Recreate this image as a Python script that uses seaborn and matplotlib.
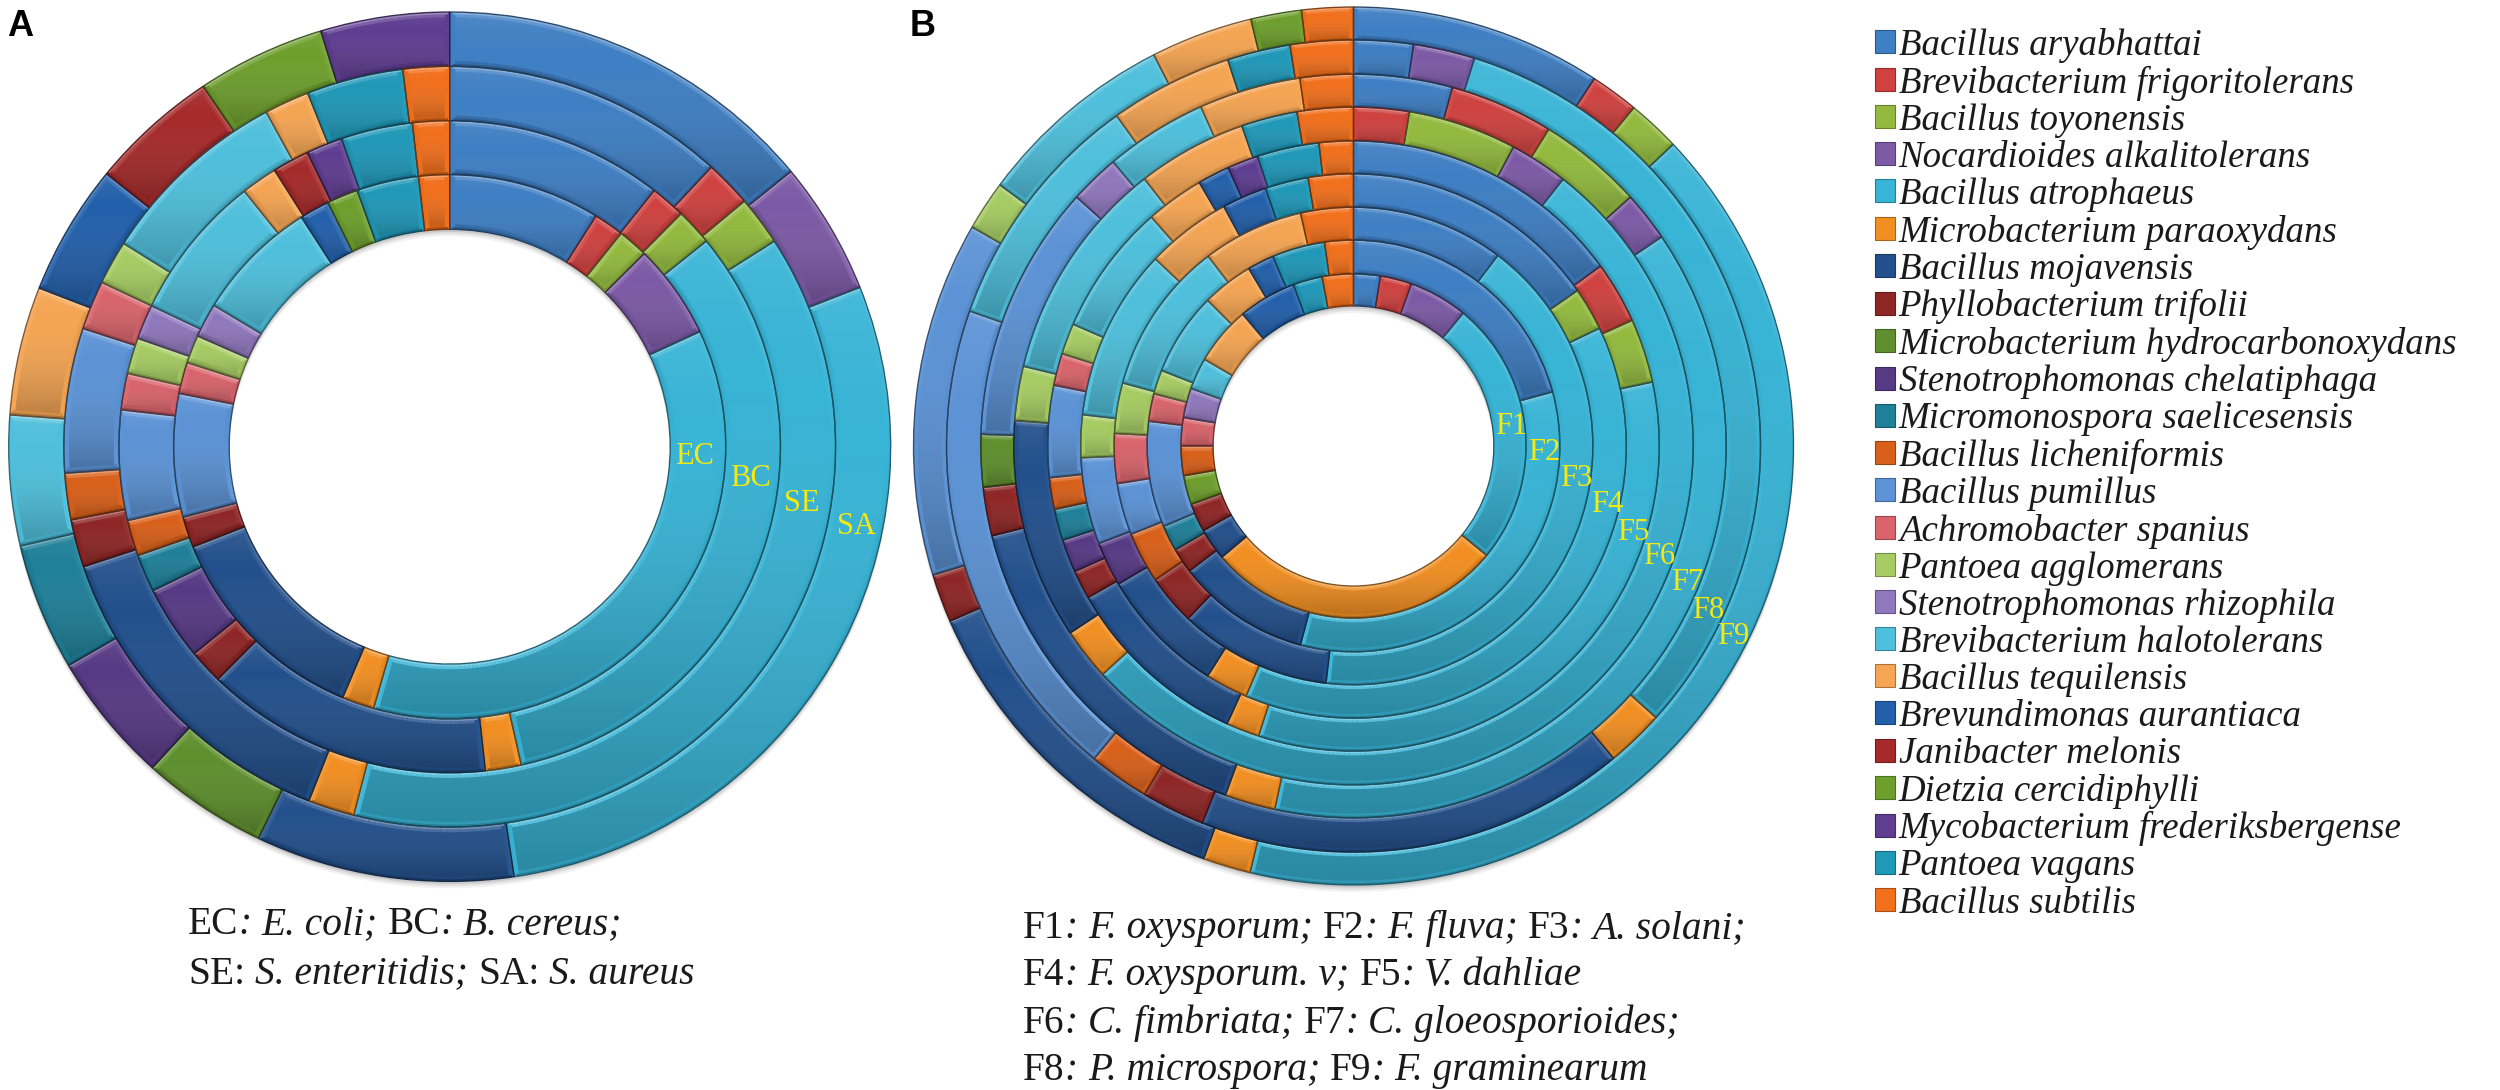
import numpy as np
import matplotlib
matplotlib.use("Agg")
import matplotlib.pyplot as plt
import matplotlib.patches as mpatches
from matplotlib.collections import LineCollection
from matplotlib.font_manager import FontProperties
import seaborn as sns

W, H = 2500, 1090

# legend order, the rings use indexes into this list
species = [
    "Bacillus aryabhattai", "Brevibacterium frigoritolerans", "Bacillus toyonensis",
    "Nocardioides alkalitolerans", "Bacillus atrophaeus", "Microbacterium paraoxydans",
    "Bacillus mojavensis", "Phyllobacterium trifolii", "Microbacterium hydrocarbonoxydans",
    "Stenotrophomonas chelatiphaga", "Micromonospora saelicesensis", "Bacillus licheniformis",
    "Bacillus pumillus", "Achromobacter spanius", "Pantoea agglomerans",
    "Stenotrophomonas rhizophila", "Brevibacterium halotolerans", "Bacillus tequilensis",
    "Brevundimonas aurantiaca", "Janibacter melonis", "Dietzia cercidiphylli",
    "Mycobacterium frederiksbergense", "Pantoea vagans", "Bacillus subtilis",
]
species_colors = [
    "#3f7fc4", "#cf4240", "#93ba3f", "#7d5aa6", "#38b4d6", "#f28f22",
    "#23508c", "#8f2626", "#5f8f2e", "#573a85", "#1f8099", "#d9601a",
    "#5c93d6", "#d9646c", "#a6cc63", "#9078bd", "#4fc0dc", "#f5a553",
    "#2360ab", "#a62a2a", "#6e9f2d", "#5f3d91", "#2098b8", "#f2701c",
]

# panel A, outer ring first. shares are arc lengths (out of 360)
sa_species = [0, 3, 4, 6, 8, 9, 10, 16, 17, 18, 19, 20, 21]
sa_shares = [50.7, 17.8, 103.1, 34.1, 16.7, 17.4, 17, 17.4, 17.2, 17.5, 17.1, 17, 17]
se_species = [0, 1, 2, 4, 5, 6, 7, 11, 12, 13, 14, 16, 17, 22, 23]
se_shares = [42.7, 7.1, 7.5, 137.1, 7, 50.2, 7.3, 7.1, 22.1, 7.5, 6.7, 29.3, 6.8, 14.6, 7]
bc_species = [0, 1, 2, 4, 5, 6, 7, 9, 10, 11, 12, 13, 14, 15, 16, 17, 19, 21, 22, 23]
bc_shares = [38.2, 6.2, 6.5, 116.6, 6.3, 50.7, 6.1, 13.2, 6.7, 6.4, 19.6, 6.5, 6.4, 6.2, 26, 6.4, 6.5, 6.4, 12.6, 6.5]
ec_species = [0, 1, 2, 3, 4, 5, 6, 7, 12, 13, 14, 15, 16, 18, 20, 22, 23]
ec_shares = [32, 6.4, 6.4, 20.2, 131, 6.8, 45.6, 6.6, 26.3, 6.7, 6, 7.3, 26.2, 6.3, 6.6, 13.1, 6.5]

# panel B
f9_species = [0, 1, 2, 4, 5, 6, 7, 12, 14, 16, 17, 20, 23]
f9_shares = [33.2, 6.4, 7, 147, 6.3, 46.6, 6.4, 47, 6.6, 26.5, 13.5, 6.7, 6.8]
f8_species = [0, 3, 4, 5, 6, 7, 11, 12, 16, 17, 22, 23]
f8_shares = [8.5, 8.8, 114.7, 8.3, 61.5, 9.1, 8.7, 69.8, 35, 17.6, 9, 9]
f7_species = [0, 1, 2, 3, 4, 5, 6, 7, 8, 12, 15, 16, 17, 23]
f7_shares = [15.4, 16.2, 16.4, 7.8, 136.4, 7.9, 55.9, 7.6, 8.2, 40.2, 7.8, 16, 15.9, 8.3]
f6_species = [1, 2, 3, 4, 5, 6, 14, 16, 17, 22, 23]
f6_shares = [9.5, 18.6, 10, 189.5, 8.9, 37.8, 9.3, 38.4, 18.8, 9.6, 9.6]
f5_species = [0, 1, 2, 4, 5, 6, 7, 9, 10, 11, 12, 13, 14, 16, 17, 18, 21, 22, 23]
f5_shares = [53.9, 11.8, 12.2, 120.2, 6.3, 35.8, 5.5, 6.3, 6, 6, 17.5, 6.1, 5.9, 25.1, 11.1, 6.1, 5.9, 11.8, 6.5]
f4_species = [0, 2, 4, 5, 6, 9, 12, 14, 16, 17, 18, 22, 23]
f4_shares = [55.2, 9.2, 138.8, 9.1, 27.2, 9.5, 18.5, 9.1, 36.8, 18.2, 9.6, 9.2, 9.6]
f3_species = [0, 4, 6, 7, 11, 12, 13, 14, 16, 17, 23]
f3_shares = [37.1, 149.5, 37.1, 12.2, 12.4, 12.6, 12.1, 12.3, 37.3, 24.6, 12.8]
f2_species = [0, 4, 6, 7, 10, 12, 13, 14, 16, 17, 18, 22, 23]
f2_shares = [74.8, 120.1, 37.7, 7.1, 7.3, 29.9, 7.8, 6.8, 23.5, 14.5, 7.5, 14.9, 8.1]
f1_species = [0, 1, 3, 4, 5, 6, 7, 20, 11, 13, 15, 16, 17, 18, 22, 23]
f1_shares = [9, 10.6, 19.9, 90, 100.2, 10.8, 9.7, 9.8, 10, 9.5, 10, 10.7, 19.8, 19.6, 9.9, 10.5]

rings_a = [(sa_species, sa_shares), (se_species, se_shares), (bc_species, bc_shares), (ec_species, ec_shares)]
rings_b = [(f9_species, f9_shares), (f8_species, f8_shares), (f7_species, f7_shares),
           (f6_species, f6_shares), (f5_species, f5_shares), (f4_species, f4_shares),
           (f3_species, f3_shares), (f2_species, f2_shares), (f1_species, f1_shares)]

ring_labels_a = ["EC", "BC", "SE", "SA"]
ring_labels_b = ["F1", "F2", "F3", "F4", "F5", "F6", "F7", "F8", "F9"]

# pixel layout
edges_a = [1.0, 0.875, 0.75, 0.626, 0.50]
edges_b = [1.0, 0.925, 0.847, 0.772, 0.695, 0.62, 0.544, 0.469, 0.392, 0.319]
label_pos_a = [(695, 456), (750, 479), (802, 503), (856, 526)]
label_pos_b = [(1511, 426), (1544, 452), (1576, 479), (1607, 505), (1633, 532),
               (1659, 556), (1687, 583), (1708, 611), (1733, 636)]

sns.set_theme(style="white")
plt.rcParams["font.family"] = ["Liberation Serif", "DejaVu Sans"]
palette = sns.color_palette(species_colors)

fig = plt.figure(figsize=(W / 100, H / 100), dpi=100, facecolor="white")

shade_img = np.zeros((64, 1, 4))
shade_img[:, 0, :3] = np.linspace(1, 0, 64)[:, None]
shade_img[:, 0, 3] = np.abs(np.linspace(0.08, -0.24, 64))


def panel_axes(cx, cy, rx, ry, pad=1.06):
    ax = fig.add_axes([(cx - rx * pad) / W, 1 - (cy + ry * pad) / H, 2 * rx * pad / W, 2 * ry * pad / H])
    ax.patch.set_alpha(0)
    return ax, pad


def lit(color, s, strength):
    color = np.array(color)
    if s >= 0:
        return tuple(color + (1 - color) * s * strength)
    return tuple(color * (1 + s * strength * 0.8))


def bevel(ax, w, color, lw, strength):
    t = np.radians(np.linspace(w.theta1, w.theta2, max(3, int(w.theta2 - w.theta1) + 2)))
    segs, cols = [], []
    for r, sign in ((w.r, 1), (w.r - w.width, -1)):
        pts = np.column_stack([r * np.cos(t), r * np.sin(t)])
        segs += [pts[i:i + 2] for i in range(len(pts) - 1)]
        cols += [lit(color, sign * np.sin((t[i] + t[i + 1]) / 2), strength) for i in range(len(pts) - 1)]
    for ang, sign in ((t[0], -1), (t[-1], 1)):
        u = np.array([np.cos(ang), np.sin(ang)])
        segs.append(np.array([u * (w.r - w.width), u * w.r]))
        cols.append(lit(color, sign * np.cos(ang), strength))
    lc = LineCollection(segs, colors=cols, linewidths=lw, capstyle="butt", zorder=3)
    ax.add_collection(lc)
    lc.set_clip_path(w)


def draw_panel(cx, cy, rx, ry, rings, edges, bevel_lw):
    ax, pad = panel_axes(cx, cy, rx, ry)
    # soft shadow under the rings
    for off, a in ((0.016, 0.05), (0.011, 0.07), (0.006, 0.10)):
        ax.pie([1], radius=1.0, center=(0, -off), colors=["black"], startangle=90,
               wedgeprops=dict(width=1.0 - edges[-1], alpha=a, linewidth=0, zorder=0))
    for (ids, shares), r_out, r_in in zip(rings, edges[:-1], edges[1:]):
        colors = [palette[i] for i in ids]
        wedges, _ = ax.pie(shares, radius=r_out, colors=colors, startangle=90, counterclock=False,
                           wedgeprops=dict(width=r_out - r_in, linewidth=0, zorder=1))
        for w, c in zip(wedges, colors):
            ext = w.get_path().get_extents()
            im = ax.imshow(shade_img, extent=[ext.x0, ext.x1, ext.y0, ext.y1], aspect="auto",
                           origin="upper", interpolation="bilinear", zorder=2)
            im.set_clip_path(w)
            bevel(ax, w, c, bevel_lw * 2.2, 0.18)
            bevel(ax, w, c, bevel_lw, 0.38)
            dark = tuple(np.array(c) * 0.45)
            ax.add_patch(mpatches.Wedge((0, 0), w.r, w.theta1, w.theta2, width=w.width, fill=False,
                                        ec=dark, lw=1.0, alpha=0.85, zorder=4))
    ax.set_aspect("auto")
    ax.set_xlim(-pad, pad)
    ax.set_ylim(-pad, pad)
    ax.axis("off")
    return ax


draw_panel(449.7, 446.7, 441, 434.7, rings_a, edges_a, 3.4)
draw_panel(1353.5, 446, 440, 439, rings_b, edges_b, 2.8)


def text_px(x, y, s, **kw):
    return fig.text(x / W, 1 - y / H, s, **kw)


for lab, (x, y) in zip(ring_labels_a, label_pos_a):
    text_px(x, y, lab, color="#f5e90f", fontsize=22, ha="center", va="center", zorder=10)
for lab, (x, y) in zip(ring_labels_b, label_pos_b):
    text_px(x, y, lab, color="#f5e90f", fontsize=22, ha="center", va="center", zorder=10)

text_px(7, 26, "A", family=["Liberation Sans"], weight="bold", fontsize=26, va="center", color="black")
text_px(910, 26, "B", family=["Liberation Sans"], weight="bold", fontsize=26, va="center", color="black")

# captions are runs of upright and italic text
caption_a = [
    (188, 934, [("EC", 0), (":", 1), ("E. coli;", 1), ("BC", 0), (":", 1), ("B. cereus;", 1)]),
    (188, 984, [("SE:", 0), ("S. enteritidis;", 1), ("SA:", 0), ("S. aureus", 1)]),
]
caption_b = [
    (1023, 938, [("F1", 0), (":", 1), ("F. oxysporum;", 1), ("F2", 0), (":", 1), ("F. fluva;", 1),
                 ("F3", 0), (":", 1), ("A. solani;", 1)]),
    (1023, 985, [("F4", 0), (":", 1), ("F. oxysporum. v;", 1), ("F5", 0), (":", 1), ("V. dahliae", 1)]),
    (1023, 1033, [("F6", 0), (":", 1), ("C. fimbriata;", 1), ("F7", 0), (":", 1), ("C. gloeosporioides;", 1)]),
    (1023, 1080, [("F8", 0), (":", 1), ("P. microspora;", 1), ("F9", 0), (":", 1), ("F. graminearum", 1)]),
]
renderer = fig.canvas.get_renderer()
for x0, y0, runs in caption_a + caption_b:
    x = x0
    for s, ital in runs:
        t = text_px(x, y0, s, fontsize=28.4, style="italic" if ital else "normal", va="baseline", color="#1a1a1a")
        gap = 0 if s in ("EC", "BC", "F1", "F2", "F3", "F4", "F5", "F6", "F7", "F8", "F9") else 10
        x += t.get_window_extent(renderer).width + gap

handles = [mpatches.Patch(facecolor=c, edgecolor=tuple(np.array(c) * 0.7), lw=0.8) for c in palette]
fig.legend(handles, species, loc="upper left", bbox_to_anchor=(1875 / W, 1 - 28 / H),
           prop=FontProperties(family="Liberation Serif", style="italic", size=26.6),
           frameon=False, handlelength=0.54, handleheight=0.58, handletextpad=0.1,
           labelspacing=0.07, borderpad=0, borderaxespad=0, labelcolor="#1a1a1a")

fig.savefig("out.png", dpi=100, facecolor="white")
